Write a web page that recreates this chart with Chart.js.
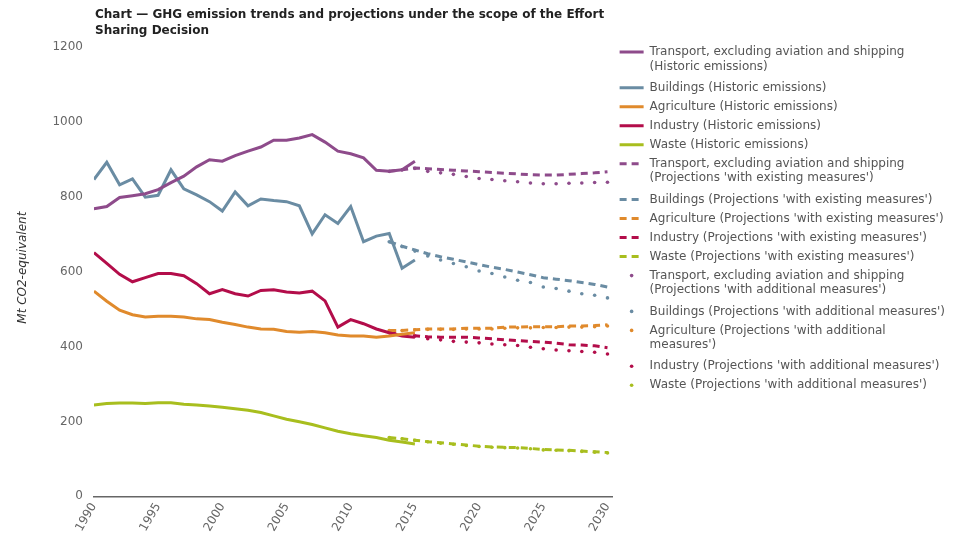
<!DOCTYPE html>
<html>
<head>
<meta charset="utf-8">
<script src="https://cdn.jsdelivr.net/npm/chart.js@4.4.1/dist/chart.umd.min.js"></script>
<style>
  body { margin: 0; background: #fff; }
  #wrap { position: relative; width: 955px; height: 538px; }
  #titulo { position: absolute; left: 95px; top: 6px; font: bold 12px "DejaVu Sans", sans-serif; line-height: 16px; color: #222; }
</style>
</head>
<body>
<div id="wrap">
  <canvas id="myChart" width="955" height="538"></canvas>
  <div id="titulo">Chart — GHG emission trends and projections under the scope of the Effort<br>Sharing Decision</div>
</div>
<script>
// años
var añosHist = [1990,1991,1992,1993,1994,1995,1996,1997,1998,1999,2000,2001,2002,2003,2004,2005,2006,2007,2008,2009,2010,2011,2012,2013,2014,2015];
var añosProy = [2013,2014,2015,2016,2017,2018,2019,2020,2021,2022,2023,2024,2025,2026,2027,2028,2029,2030];

// historic emissions (Mt CO2-eq)
var transporteHist = [768,774,798,803,808,819,838,855,880,899,895,910,922,933,951,951,957,966,946,922,915,904,871,868,872,895];
var edificiosHist  = [846,892,832,848,799,804,872,821,805,787,762,813,776,794,790,787,776,701,752,729,774,680,695,702,609,631];
var agriculturaHist= [548,521,497,485,479,481,481,479,474,472,465,459,452,447,446,440,438,440,437,431,428,428,425,428,433,437];
var industriaHist  = [651,622,593,573,584,595,595,589,568,541,552,541,535,550,552,546,543,548,522,452,472,461,447,437,428,425];
var residuosHist   = [244,248,249,249,248,250,250,246,244,241,238,234,230,224,215,206,199,192,183,174,167,162,157,150,145,140];

// projections 'with existing measures'
var transporteWEM = [868,872,877,875,873,871,869,867,865,863,861,859,858,858,860,862,864,867];
var edificiosWEM  = [680,668,658,648,640,633,626,619,612,606,599,592,584,580,576,571,566,559];
var agriculturaWEM= [443,443,445,447,447,447,449,449,449,452,452,453,453,453,455,455,456,458];
var industriaWEM  = [437,432,429,426,425,425,425,423,421,418,416,414,412,409,405,404,402,397];
var residuosWEM   = [157,154,150,146,143,140,137,134,132,131,130,128,125,124,123,121,119,117];

// projections 'with additional measures'
var transporteWAM = [868,872,876,868,864,860,854,849,846,843,840,837,835,835,836,837,838,839];
var edificiosWAM  = [680,667,655,642,631,622,613,602,595,586,577,571,559,555,548,541,537,530];
var agriculturaWAM= [443,443,445,446,446,446,447,447,447,449,450,450,451,451,452,452,453,455];
var industriaWAM  = [437,432,428,421,418,414,412,410,407,405,403,398,394,391,389,387,385,380];
var residuosWAM   = [157,154,150,146,142,139,136,133,131,130,129,127,124,123,122,120,118,116];

var yTicks = [0,200,400,600,800,1000,1200];
var xTicks = [1990,1995,2000,2005,2010,2015,2020,2025,2030];

var etiquetas = [
  ['Transport, excluding aviation and shipping', '(Historic emissions)'],
  'Buildings (Historic emissions)',
  'Agriculture (Historic emissions)',
  'Industry (Historic emissions)',
  'Waste (Historic emissions)',
  ['Transport, excluding aviation and shipping', "(Projections 'with existing measures')"],
  "Buildings (Projections 'with existing measures')",
  "Agriculture (Projections 'with existing measures')",
  "Industry (Projections 'with existing measures')",
  "Waste (Projections 'with existing measures')",
  ['Transport, excluding aviation and shipping', "(Projections 'with additional measures')"],
  "Buildings (Projections 'with additional measures')",
  ['Agriculture (Projections \'with additional', "measures')"],
  "Industry (Projections 'with additional measures')",
  "Waste (Projections 'with additional measures')"
];

var colores = ['#8E4B8B', '#6A8CA3', '#E08A2C', '#B30D4A', '#A8BE1E'];

var fuente = '"DejaVu Sans", Verdana, sans-serif';

function puntos(xs, ys) {
  return ys.map(function (v, i) { return {x: xs[i], y: v}; });
}

var hist = [transporteHist, edificiosHist, agriculturaHist, industriaHist, residuosHist];
var wem = [transporteWEM, edificiosWEM, agriculturaWEM, industriaWEM, residuosWEM];
var wam = [transporteWAM, edificiosWAM, agriculturaWAM, industriaWAM, residuosWAM];

var datasets = [];
hist.forEach(function (d, i) {
  datasets.push({label: etiquetas[i], data: puntos(añosHist, d), borderColor: colores[i], backgroundColor: colores[i],
    borderWidth: 3, pointRadius: 0, tension: 0, tipo: 'solido'});
});
wem.forEach(function (d, i) {
  datasets.push({label: etiquetas[5 + i], data: puntos(añosProy, d), borderColor: colores[i], backgroundColor: colores[i],
    borderWidth: 3, borderDash: [7, 5], pointRadius: 0, tension: 0, tipo: 'guion'});
});
wam.forEach(function (d, i) {
  datasets.push({label: etiquetas[10 + i], data: puntos(añosProy, d), borderColor: colores[i], backgroundColor: colores[i],
    showLine: false, pointRadius: 1.8, pointBorderWidth: 0, pointHoverRadius: 0, tipo: 'punto'});
});

var ctx = document.getElementById('myChart').getContext('2d');
var chart = new Chart(ctx, {
  type: 'line',
  data: { datasets: datasets },
  options: {
    responsive: false,
    animation: false,
    devicePixelRatio: 1,
    layout: { padding: { left: 12, top: 39, right: 0, bottom: 0 } },
    plugins: {
      tooltip: { enabled: false },
      legend: {
        position: 'right',
        align: 'start',
        maxWidth: 400,
        labels: {
          usePointStyle: true,
          pointStyleWidth: 24,
          boxHeight: 12,
          padding: 7,
          color: '#555',
          font: { family: fuente, size: 12 },
          generateLabels: function (chart) {
            return chart.data.datasets.map(function (ds, i) {
              var item = {
                text: ds.label, fillStyle: ds.borderColor, strokeStyle: ds.borderColor,
                fontColor: '#555', lineWidth: 3, pointStyle: 'line', hidden: false, datasetIndex: i,
                lineCap: 'butt', lineDash: [], lineDashOffset: 0
              };
              if (ds.tipo === 'guion') { item.lineDash = [7, 5]; }
              if (ds.tipo === 'punto') { item.lineDash = [0.01, 100]; item.lineDashOffset = -12; item.lineCap = 'round'; item.lineWidth = 3.6; }
              return item;
            });
          }
        }
      }
    },
    scales: {
      x: {
        type: 'linear',
        min: 1990,
        max: 2030.4,
        afterBuildTicks: function (axis) { axis.ticks = xTicks.map(function (v) { return {value: v}; }); },
        grid: { display: false, drawTicks: false },
        border: { display: true, color: '#666', width: 1.5 },
        ticks: {
          autoSkip: false, minRotation: 60, maxRotation: 60, padding: 4,
          color: '#666', font: { family: fuente, size: 12 },
          callback: function (v) { return String(v); }
        }
      },
      y: {
        min: 0,
        max: 1221.4,
        afterBuildTicks: function (axis) { axis.ticks = yTicks.map(function (v) { return {value: v}; }); },
        grid: { display: false, drawTicks: false },
        border: { display: false },
        ticks: { padding: 11, color: '#666', font: { family: fuente, size: 12 },
          callback: function (v) { return String(v); } },
        title: {
          display: true, text: 'Mt CO2-equivalent', color: '#333',
          font: { family: fuente, size: 12, style: 'italic' },
          padding: { top: 4, bottom: 11 }
        }
      }
    }
  }
});
</script>
</body>
</html>
